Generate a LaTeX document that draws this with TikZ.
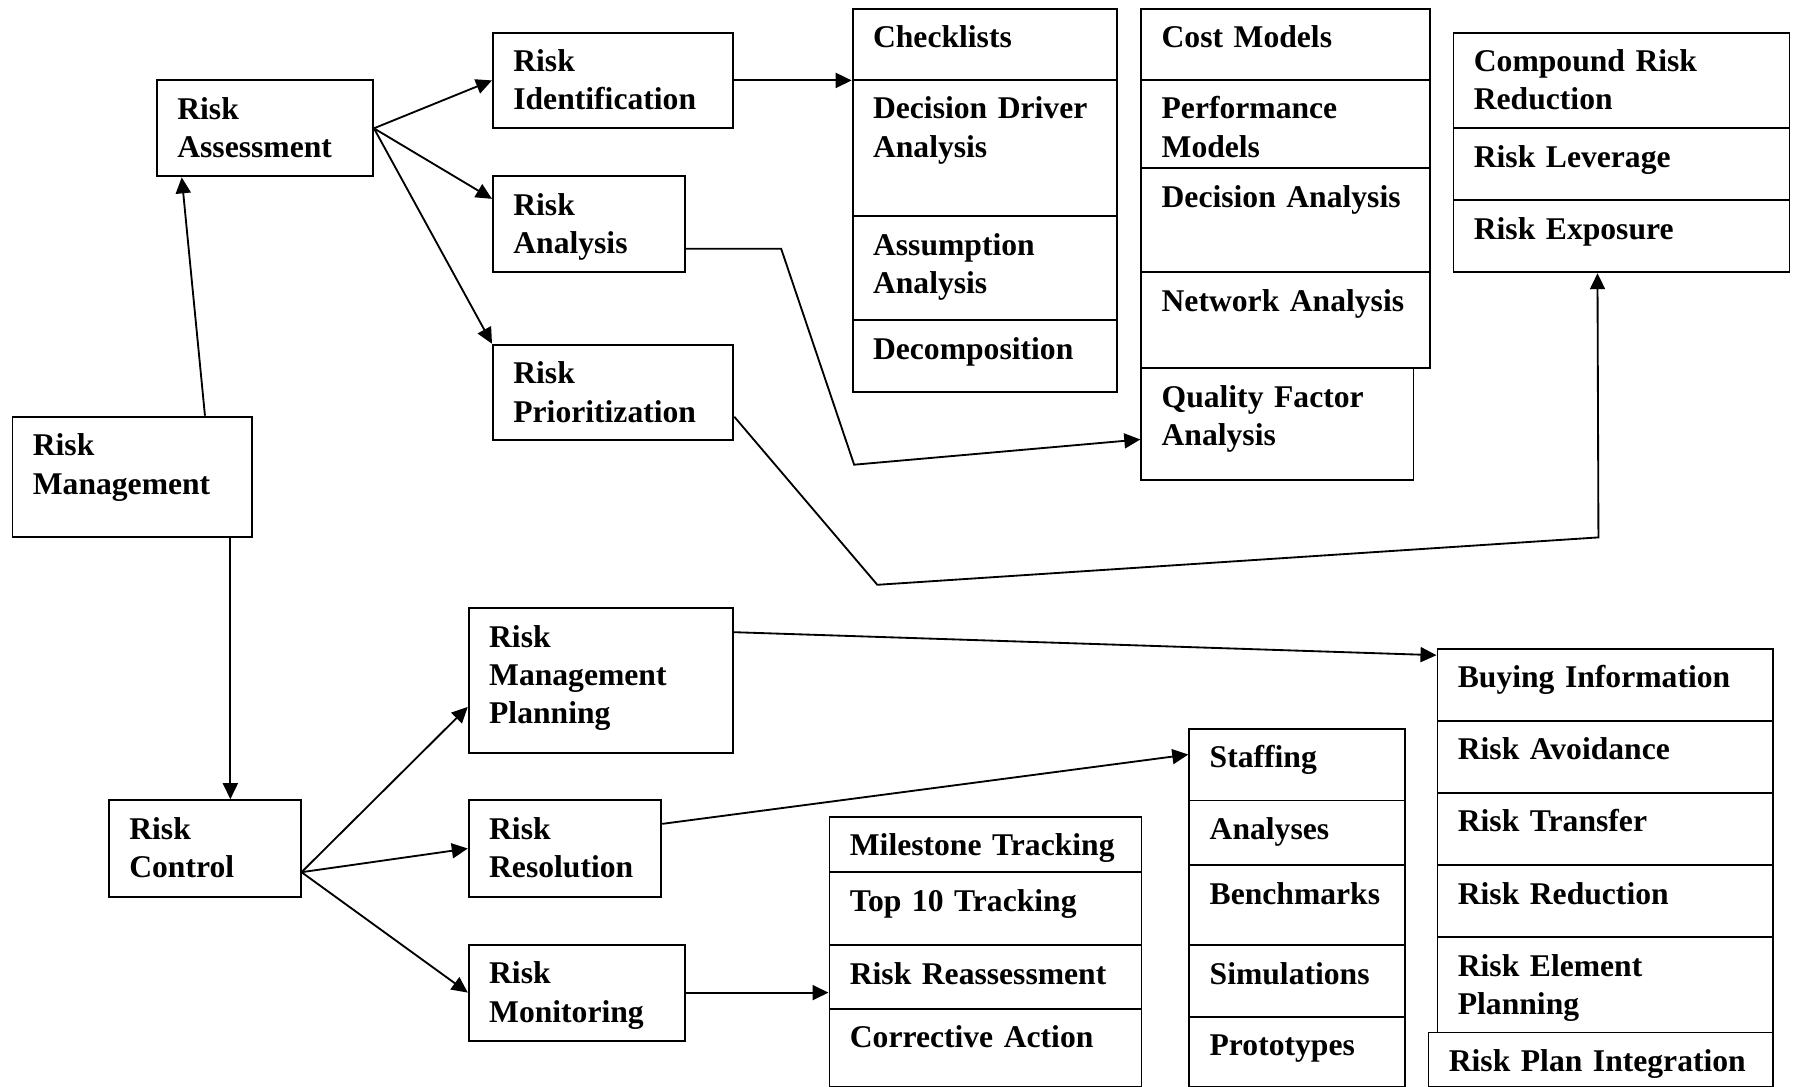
\documentclass[tikz,border=0pt]{standalone}
\usepackage{fontspec}
\setmainfont{Liberation Serif}
\usetikzlibrary{calc, arrows.meta}

\tikzset{
  box/.style={draw, line width=1.1pt, inner sep=0pt},
  boxtext/.style={font=\fontsize{18}{21.8}\selectfont\bfseries, align=left,
    text width=8cm, inner sep=0pt},
  link/.style={line width=1.05pt},
}

% \cellbox{name}{x left}{y top}{x right}{y bottom}{text}
\newcommand{\cellbox}[6]{%
  \node[box, anchor=north west, minimum width={(#4-#2)*0.02cm},
    minimum height={(#5-#3)*0.02cm}] (#1) at (#2,#3) {};
  \node[boxtext, anchor=base west] (#1-t) at ([shift={(21,40)}]#1.north west) {#6};
}

\begin{document}
\begin{tikzpicture}[x=0.02cm, y=-0.02cm, >={Triangle[length=0.32cm, width=0.3cm]}]

		\useasboundingbox (0,0) rectangle (1795,1087);

		% Assessment branch
		\cellbox{rm}{11.5}{415.7}{251.4}{535.7}{Risk\\Management}
		\cellbox{ra}{156}{79.3}{372}{175.4}{Risk\\Assessment}
		\cellbox{ri}{492}{31.6}{732.4}{127.3}{Risk\\Identification}
		\cellbox{ran}{492}{175.4}{684.2}{271.2}{Risk\\Analysis}
		\cellbox{rp}{492}{343.8}{732.4}{439.2}{Risk\\Prioritization}

		% Identification techniques
		\cellbox{chk}{851.7}{8}{1116.2}{79}{Checklists}
		\cellbox{ddr}{851.7}{79}{1116.2}{215.2}{Decision Driver\\Analysis}
		\cellbox{asm}{851.7}{215.2}{1116.2}{319.4}{Assumption\\Analysis}
		\cellbox{dec}{851.7}{319.4}{1116.2}{391.5}{Decomposition}

		% Analysis techniques
		\cellbox{cost}{1140.3}{8}{1428.6}{79}{Cost Models}
		\cellbox{perf}{1140.3}{79}{1428.6}{167.1}{Performance\\Models}
		\cellbox{dan}{1140.3}{167.1}{1428.6}{271.3}{Decision Analysis}
		\cellbox{net}{1140.3}{271.3}{1428.6}{367.5}{Network Analysis}
		\cellbox{qfa}{1140.3}{367.5}{1412.5}{479.5}{Quality Factor\\Analysis}

		% Prioritization techniques
		\cellbox{cmp}{1452.5}{31.6}{1788.5}{127.3}{Compound Risk\\Reduction}
		\cellbox{lev}{1452.5}{127.3}{1788.5}{199.3}{Risk Leverage}
		\cellbox{rexp}{1452.5}{199.3}{1788.5}{271.3}{Risk Exposure}

		% Control branch
		\cellbox{rc}{108}{799.2}{299.6}{895.9}{Risk\\Control}
		\cellbox{rmp}{467.8}{607.3}{732}{751.8}{Risk\\Management\\Planning}
		\cellbox{rr}{467.8}{799.2}{660.3}{895.9}{Risk\\Resolution}
		\cellbox{rmon}{467.8}{943.7}{684.2}{1039.6}{Risk\\Monitoring}

		% Monitoring techniques
		\cellbox{mile}{828.5}{815.6}{1140.5}{871.4}{Milestone Tracking}
		\cellbox{top}{828.5}{871.4}{1140.5}{944}{Top 10 Tracking}
		\cellbox{reas}{828.5}{944}{1140.5}{1007.8}{Risk Reassessment}
		\cellbox{corr}{828.5}{1007.8}{1140.5}{1086}{Corrective Action}

		% Resolution techniques
		\cellbox{staff}{1188.3}{727.6}{1404.3}{799.5}{Staffing}
		\cellbox{anl}{1188.3}{799.5}{1404.3}{864}{Analyses}
		\cellbox{bench}{1188.3}{864}{1404.3}{944.2}{Benchmarks}
		\cellbox{sim}{1188.3}{944.2}{1404.3}{1015.8}{Simulations}
		\cellbox{proto}{1188.3}{1015.8}{1404.3}{1086}{Prototypes}

		% Planning techniques
		\cellbox{buy}{1436.5}{647.7}{1772.2}{719.8}{Buying Information}
		\cellbox{avoid}{1436.5}{719.8}{1772.2}{791.7}{Risk Avoidance}
		\cellbox{trans}{1436.5}{791.7}{1772.2}{864}{Risk Transfer}
		\cellbox{red}{1436.5}{864}{1772.2}{936.2}{Risk Reduction}
		\cellbox{elem}{1436.5}{936.2}{1772.2}{1031.5}{Risk Element\\Planning}
		\cellbox{rpi}{1427.5}{1031.5}{1772.2}{1086}{Risk Plan Integration}

		% --- Connections ---

		% Management to its two halves
		\draw[link, ->] ($(rm.north west)!0.8!(rm.north east)$) -- ($(ra.south west)!0.118!(ra.south east)$);
		\coordinate (rm-down) at ($(rm.south west)!0.905!(rm.south east)$);
		\draw[link, ->] (rm-down) -- (rm-down |- rc.north);

		% Assessment fan
		\draw[link, ->] (ra.east) -- (ri.west);
		\draw[link, ->] (ra.east) -- ($(ran.north west)!0.24!(ran.south west)$);
		\draw[link, ->] (ra.east) -- (rp.north west);

		\draw[link, ->] (ri.east) -- (ri.east -| chk.west);
		\draw[link, ->] ($(ran.north east)!0.75!(ran.south east)$) -- ++(95,0) -- ++(73,216)
			-- ([yshift=-0.3cm] qfa.west);
		\coordinate (rexp-in) at ([xshift=-0.48cm] rexp.south);
		\draw[link, ->] ($(rp.north east)!0.75!(rp.south east)$) -- ++(143,168) -- ++(721.1,-47.4)
			-- (rexp-in);

		% Control fan
		\coordinate (rc-out) at ($(rc.north east)!0.74!(rc.south east)$);
		\draw[link, ->] (rc-out) -- ($(rmp.north west)!0.68!(rmp.south west)$);
		\draw[link, ->] (rc-out) -- (rr.west);
		\draw[link, ->] (rc-out) -- (rmon.west);

		\draw[link, ->] ($(rmp.north east)!0.17!(rmp.south east)$) -- ([yshift=-0.15cm] buy.north west);
		\draw[link, ->] ($(rr.north east)!0.25!(rr.south east)$) -- ([yshift=0.2cm] staff.west);
		\draw[link, ->] (rmon.east) -- (rmon.east -| reas.west);

	\end{tikzpicture}
\end{document}
